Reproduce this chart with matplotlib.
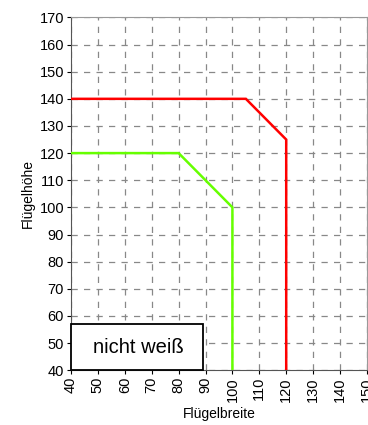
import matplotlib.pyplot as plt
from matplotlib.patches import Rectangle

plt.rcParams['font.family'] = ['Liberation Sans', 'DejaVu Sans']

# Grenzkurven: Flügelbreite (x) gegen Flügelhöhe (y)
red_x = [40, 105, 120, 120]
red_y = [140, 140, 125, 40]
green_x = [40, 80, 100, 100]
green_y = [120, 120, 100, 40]

x_ticks = list(range(40, 151, 10))
y_ticks = list(range(40, 171, 10))
box_label = "nicht weiß"

fig = plt.figure(figsize=(3.68, 4.25), dpi=100)
ax = fig.add_axes([0.193, 0.129, 0.804, 0.83])

ax.plot(red_x, red_y, color='#ff0000', lw=1.8, solid_joinstyle='miter', zorder=3)
ax.plot(green_x, green_y, color='#66ff00', lw=1.8, solid_joinstyle='miter', zorder=3)

ax.set_xlim(40, 150)
ax.set_ylim(40, 170)
ax.set_xticks(x_ticks)
ax.set_yticks(y_ticks)
ax.tick_params(axis='x', labelrotation=90, labelsize=10.5, length=3, pad=2)
ax.tick_params(axis='y', labelsize=10.5, length=3, pad=2)
ax.grid(True, color='#888888', linestyle=(0, (5, 5)), lw=0.9)

for side in ('top', 'right'):
    ax.spines[side].set_color('#999999')
for side in ('left', 'bottom'):
    ax.spines[side].set_color('#555555')

ax.set_xlabel("Flügelbreite", fontsize=10, labelpad=4)
ax.set_ylabel("Flügelhöhe", fontsize=10, labelpad=3)

# Beschriftungskasten unten links
ax.add_patch(Rectangle((40, 40), 49, 17, facecolor='white', edgecolor='black',
                       lw=1.3, zorder=4, clip_on=False))
ax.text(65, 48.5, box_label, fontsize=14.5, ha='center', va='center', zorder=5)

fig.savefig('out.png', dpi=100)
